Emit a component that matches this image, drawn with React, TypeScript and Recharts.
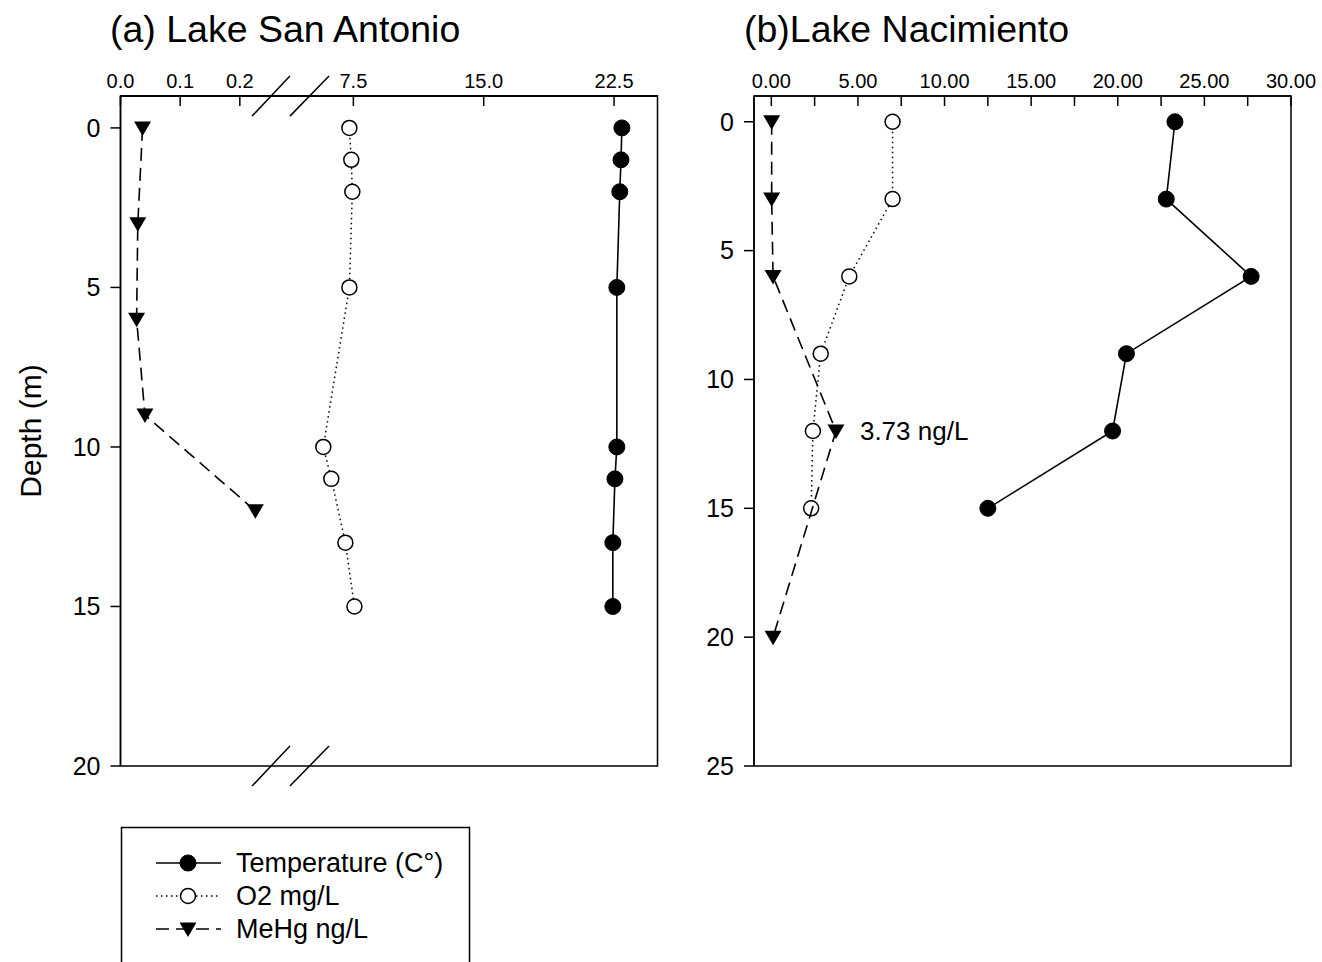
import React from "react";
import {
    ScatterChart,
    Scatter,
    XAxis,
    YAxis,
    ReferenceArea,
    ReferenceLine,
    ReferenceDot
} from "recharts";

const FONT = '"Liberation Sans", Arial, Helvetica, sans-serif';

// (a) Lake San Antonio
const sanTempDepth = [0, 1, 2, 5, 10, 11, 13, 15];
const sanTemp = [22.95, 22.9, 22.83, 22.66, 22.66, 22.55, 22.43, 22.43];
const sanO2Depth = [0, 1, 2, 5, 10, 11, 13, 15];
const sanO2 = [7.27, 7.38, 7.44, 7.27, 5.77, 6.23, 7.04, 7.56];
const sanMeHgDepth = [0, 3, 6, 9, 12];
const sanMeHg = [0.037, 0.029, 0.027, 0.041, 0.226];

// (b) Lake Nacimiento
const nacTempDepth = [0, 3, 6, 9, 12, 15];
const nacTemp = [23.3, 22.8, 27.7, 20.5, 19.7, 12.5];
const nacO2Depth = [0, 3, 6, 9, 12, 15];
const nacO2 = [7.0, 7.0, 4.5, 2.85, 2.4, 2.3];
const nacMeHgDepth = [0, 3, 6, 12, 20];
const nacMeHg = [0.02, 0.02, 0.1, 3.73, 0.1];

// axes
const sanLowTicks = [0, 0.1, 0.2];
const sanHighTicks = [7.5, 15, 22.5];
const sanDepthTicks = [0, 5, 10, 15, 20];
const nacXTicks = [0, 2.5, 5, 7.5, 10, 12.5, 15, 17.5, 20, 22.5, 25, 27.5, 30];
const nacDepthTicks = [0, 5, 10, 15, 20, 25];

const SAN_LOW_DOMAIN = [0, 0.9];
const SAN_HIGH_DOMAIN = [-5.9, 25];
const SAN_DEPTH_DOMAIN = [-1, 20];
const NAC_X_DOMAIN = [-1, 30];
const NAC_DEPTH_DOMAIN = [-1, 25];

// panel (a) has a broken x axis: 0 = low part (MeHg), 1 = high part (temp, O2)
const LOW = 0;
const HIGH = 1;

// axis break marks on panel (a), in high-axis units
const breakSlashes = [[1.67, 3.85], [3.85, 6.1]];
const SLASH_HALF = 0.63;

const pts = (depth: number[], vals: number[]) => depth.map((d, i) => ({ depth: d, v: vals[i] }));

const fmt1 = (t: number) => t.toFixed(1);
const fmtMajor = (t: number) => (t % 5 === 0 ? t.toFixed(2) : "");

const FilledCircle = (p: any) => <circle cx={p.cx} cy={p.cy} r={8} fill="#000" stroke="#000" strokeWidth={1} />;
const OpenCircle = (p: any) => (
    <circle cx={p.cx} cy={p.cy} r={7.5} fill="#fff" stroke="#000" strokeWidth={1.5} />
);
const DownTriangle = (p: any) => (
    <path
        d={`M${p.cx - 8.5},${p.cy - 6.5} L${p.cx + 8.5},${p.cy - 6.5} L${p.cx},${p.cy + 8} Z`}
        fill="#000"
    />
);

const tempLine = { stroke: "#000", strokeWidth: 1.6 };
const o2Line = { stroke: "#000", strokeWidth: 1.5, strokeDasharray: "1.5 3.5" };
const mehgLine = { stroke: "#000", strokeWidth: 1.6, strokeDasharray: "13 7" };

const topTick = { fill: "#000", fontSize: 20, fontFamily: FONT };
const leftTick = { fill: "#000", fontSize: 25, fontFamily: FONT };
const axisLine = { stroke: "#000", strokeWidth: 1.5 };
const depthLabel = {
    value: "Depth (m)",
    angle: -90,
    position: "insideLeft",
    offset: 30,
    style: { textAnchor: "middle", fontSize: 30, fontFamily: FONT, fill: "#000" }
};

function LakeSanAntonio() {
    return (
        <ScatterChart width={680} height={800} margin={{ top: 56, right: 22.5, bottom: 34, left: 0 }}>
            <XAxis
                xAxisId={LOW}
                type="number"
                dataKey="v"
                orientation="top"
                domain={SAN_LOW_DOMAIN}
                allowDataOverflow
                ticks={sanLowTicks}
                tickFormatter={fmt1}
                height={0.01}
                tick={topTick}
                tickSize={-10}
                tickMargin={18}
                axisLine={axisLine}
                tickLine={axisLine}
                interval={0}
            />
            <XAxis
                xAxisId={HIGH}
                type="number"
                dataKey="v"
                orientation="top"
                domain={SAN_HIGH_DOMAIN}
                allowDataOverflow
                ticks={sanHighTicks}
                tickFormatter={fmt1}
                height={40}
                tick={topTick}
                tickSize={-10}
                tickMargin={18}
                axisLine={axisLine}
                tickLine={axisLine}
                interval={0}
            />
            <YAxis
                yAxisId="d"
                type="number"
                dataKey="depth"
                reversed
                domain={SAN_DEPTH_DOMAIN}
                allowDataOverflow
                ticks={sanDepthTicks}
                width={120.5}
                tick={leftTick}
                tickSize={10}
                tickMargin={10}
                axisLine={axisLine}
                tickLine={axisLine}
                interval={0}
                label={depthLabel}
            />
            <ReferenceArea
                xAxisId={HIGH}
                yAxisId="d"
                x1={SAN_HIGH_DOMAIN[0]}
                x2={SAN_HIGH_DOMAIN[1]}
                y1={SAN_DEPTH_DOMAIN[0]}
                y2={SAN_DEPTH_DOMAIN[1]}
                fill="none"
                fillOpacity={0}
                stroke="#000"
                strokeWidth={1.5}
            />
            {breakSlashes.map(([a, b], i) => (
                <ReferenceLine
                    key={"t" + i}
                    xAxisId={HIGH}
                    yAxisId="d"
                    ifOverflow="visible"
                    stroke="#000"
                    strokeWidth={1.5}
                    segment={[
                        { x: a, y: SAN_DEPTH_DOMAIN[0] + SLASH_HALF },
                        { x: b, y: SAN_DEPTH_DOMAIN[0] - SLASH_HALF }
                    ]}
                />
            ))}
            {breakSlashes.map(([a, b], i) => (
                <ReferenceLine
                    key={"b" + i}
                    xAxisId={HIGH}
                    yAxisId="d"
                    ifOverflow="visible"
                    stroke="#000"
                    strokeWidth={1.5}
                    segment={[
                        { x: a, y: SAN_DEPTH_DOMAIN[1] + SLASH_HALF },
                        { x: b, y: SAN_DEPTH_DOMAIN[1] - SLASH_HALF }
                    ]}
                />
            ))}
            <Scatter
                name="Temperature (C°)"
                xAxisId={HIGH}
                yAxisId="d"
                data={pts(sanTempDepth, sanTemp)}
                line={tempLine}
                lineType="joint"
                shape={FilledCircle}
                fill="#000"
                isAnimationActive={false}
            />
            <Scatter
                name="O2 mg/L"
                xAxisId={HIGH}
                yAxisId="d"
                data={pts(sanO2Depth, sanO2)}
                line={o2Line}
                lineType="joint"
                shape={OpenCircle}
                fill="#000"
                isAnimationActive={false}
            />
            <Scatter
                name="MeHg ng/L"
                xAxisId={LOW}
                yAxisId="d"
                data={pts(sanMeHgDepth, sanMeHg)}
                line={mehgLine}
                lineType="joint"
                shape={DownTriangle}
                fill="#000"
                isAnimationActive={false}
            />
        </ScatterChart>
    );
}

function LakeNacimiento() {
    return (
        <ScatterChart width={642} height={800} margin={{ top: 56, right: 31, bottom: 34, left: 0 }}>
            <XAxis
                xAxisId="x"
                type="number"
                dataKey="v"
                orientation="top"
                domain={NAC_X_DOMAIN}
                allowDataOverflow
                ticks={nacXTicks}
                tickFormatter={fmtMajor}
                height={40}
                tick={topTick}
                tickSize={-10}
                tickMargin={18}
                axisLine={axisLine}
                tickLine={axisLine}
                interval={0}
            />
            <YAxis
                yAxisId="d"
                type="number"
                dataKey="depth"
                reversed
                domain={NAC_DEPTH_DOMAIN}
                allowDataOverflow
                ticks={nacDepthTicks}
                width={74}
                tick={leftTick}
                tickSize={10}
                tickMargin={10}
                axisLine={axisLine}
                tickLine={axisLine}
                interval={0}
            />
            <ReferenceArea
                xAxisId="x"
                yAxisId="d"
                x1={NAC_X_DOMAIN[0]}
                x2={NAC_X_DOMAIN[1]}
                y1={NAC_DEPTH_DOMAIN[0]}
                y2={NAC_DEPTH_DOMAIN[1]}
                fill="none"
                fillOpacity={0}
                stroke="#000"
                strokeWidth={1.5}
            />
            <Scatter
                name="Temperature (C°)"
                xAxisId="x"
                yAxisId="d"
                data={pts(nacTempDepth, nacTemp)}
                line={tempLine}
                lineType="joint"
                shape={FilledCircle}
                fill="#000"
                isAnimationActive={false}
            />
            <Scatter
                name="O2 mg/L"
                xAxisId="x"
                yAxisId="d"
                data={pts(nacO2Depth, nacO2)}
                line={o2Line}
                lineType="joint"
                shape={OpenCircle}
                fill="#000"
                isAnimationActive={false}
            />
            <Scatter
                name="MeHg ng/L"
                xAxisId="x"
                yAxisId="d"
                data={pts(nacMeHgDepth, nacMeHg)}
                line={mehgLine}
                lineType="joint"
                shape={DownTriangle}
                fill="#000"
                isAnimationActive={false}
            />
            <ReferenceDot
                xAxisId="x"
                yAxisId="d"
                x={3.73}
                y={12}
                r={1}
                fill="none"
                stroke="none"
                label={{
                    value: "3.73 ng/L",
                    position: "right",
                    offset: 23,
                    fontSize: 26,
                    fontFamily: FONT,
                    fill: "#000"
                }}
            />
        </ScatterChart>
    );
}

const legendItems = [
    { label: "Temperature (C°)", line: tempLine, Mark: FilledCircle },
    { label: "O2 mg/L", line: o2Line, Mark: OpenCircle },
    { label: "MeHg ng/L", line: mehgLine, Mark: DownTriangle }
];

export default function App() {
    return (
        <div
            style={{
                position: "absolute",
                left: 0,
                top: 0,
                width: 1322,
                height: 962,
                overflow: "hidden",
                background: "#fff",
                fontFamily: FONT
            }}
        >
            <svg width={1322} height={962} style={{ position: "absolute", left: 0, top: 0 }}>
                <text x={110} y={42} fontSize={37.5} fontFamily={FONT} fill="#000">
                    (a) Lake San Antonio
                </text>
                <text x={744} y={42} fontSize={37.5} fontFamily={FONT} fill="#000">
                    (b)Lake Nacimiento
                </text>
                <rect x={121.5} y={827.5} width={348} height={160} fill="none" stroke="#000" strokeWidth={1.5} />
                {legendItems.map((it, i) => {
                    const y = 863 + i * 33;
                    return (
                        <g key={it.label}>
                            <line x1={156} x2={221} y1={y} y2={y} {...it.line} />
                            <it.Mark cx={188} cy={y} />
                            <text x={236} y={y + 9} fontSize={27} fontFamily={FONT} fill="#000">
                                {it.label}
                            </text>
                        </g>
                    );
                })}
            </svg>
            <div style={{ position: "absolute", left: 0, top: 0 }}>
                <LakeSanAntonio />
            </div>
            <div style={{ position: "absolute", left: 680, top: 0 }}>
                <LakeNacimiento />
            </div>
        </div>
    );
}
